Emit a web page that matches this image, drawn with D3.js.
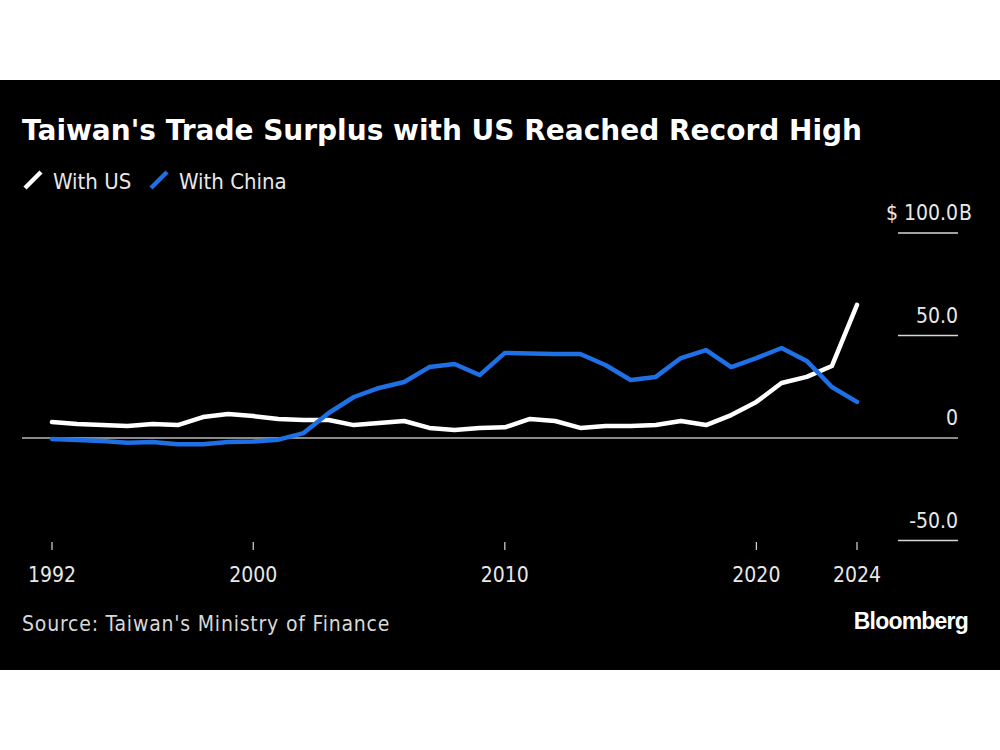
<!DOCTYPE html>
<html>
<head>
<meta charset="utf-8">
<script src="https://cdn.jsdelivr.net/npm/d3@7"></script>
<style>
  html, body { margin: 0; padding: 0; background: #fff; }
  svg { display: block; }
  .narrow { font-family: "Liberation Sans Narrow", "Arial Narrow", "DejaVu Sans Condensed", sans-serif; }
</style>
</head>
<body>
<svg id="chart" width="1000" height="750"></svg>
<script>
const years = d3.range(1992, 2025);
const withUS = [7.8, 6.8, 6.3, 5.9, 6.8, 6.3, 10.2, 11.7, 10.7, 9.3, 8.8, 8.8, 6.3, 7.3, 8.3, 4.9, 3.9, 4.9, 5.2, 9.3, 8.3, 4.9, 5.9, 5.9, 6.3, 8.3, 6.3, 11.2, 17.6, 26.8, 29.8, 35.1, 64.9];
const withChina = [-0.5, -1.0, -1.5, -2.3, -2.0, -3.0, -3.0, -2.0, -1.7, -0.8, 2.4, 12.2, 20.0, 24.4, 27.3, 34.6, 36.1, 30.7, 41.5, 41.2, 41.0, 41.0, 35.6, 28.3, 29.8, 39.0, 42.9, 34.6, 39.0, 43.9, 37.6, 24.9, 17.6];
const seriesNames = ["With US", "With China"];
const seriesColors = ["#ffffff", "#1f6fe5"];
const yTicks = [100, 50, 0, -50];
const yTickLabels = ["100.0", "50.0", "0", "-50.0"];
const xTicks = [1992, 2000, 2010, 2020, 2024];

const svg = d3.select("#chart");
svg.append("rect").attr("x", 0).attr("y", 80).attr("width", 1000).attr("height", 590).attr("fill", "#000");

const x = d3.scaleLinear().domain([1992, 2024]).range([52, 857]);
const y = d3.scaleLinear().domain([-50, 100]).range([540.5, 233]);

// Title
svg.append("text").attr("x", 22).attr("y", 140)
  .attr("fill", "#fff")
  .style("font-family", "'DejaVu Sans', sans-serif")
  .style("font-weight", "bold").style("font-size", "28px")
  .text("Taiwan's Trade Surplus with US Reached Record High");

// Legend
const legend = svg.append("g");
const legendX = [25, 151];
seriesNames.forEach((n, i) => {
  legend.append("line").attr("x1", legendX[i]).attr("y1", 188).attr("x2", legendX[i] + 16).attr("y2", 172)
    .attr("stroke", seriesColors[i]).attr("stroke-width", 4.5);
  legend.append("text").attr("class", "narrow").attr("x", legendX[i] + 28).attr("y", 189)
    .attr("fill", "#e8e8e8").style("font-size", "22px").text(n);
});

// Y grid segments and labels
const yAxis = svg.append("g");
yTicks.forEach((t, i) => {
  if (t === 0) {
    yAxis.append("line").attr("x1", 22).attr("x2", 958).attr("y1", y(0)).attr("y2", y(0))
      .attr("stroke", "#b8b8b8").attr("stroke-width", 1.5);
  } else {
    yAxis.append("line").attr("x1", 898).attr("x2", 958).attr("y1", y(t)).attr("y2", y(t))
      .attr("stroke", "#d8d8d8").attr("stroke-width", 1.5);
  }
  const label = yAxis.append("text").attr("class", "narrow").attr("x", 958).attr("y", y(t) - 13)
    .attr("text-anchor", "end").attr("fill", "#e8e8e8").style("font-size", "21px")
    .text(i === 0 ? "$ " + yTickLabels[i] : yTickLabels[i]);
  if (i === 0) {
    yAxis.append("text").attr("class", "narrow").attr("x", 959).attr("y", y(t) - 13)
      .attr("fill", "#e8e8e8").style("font-size", "21px").text("B");
  }
});

// X axis
const xAxis = svg.append("g");
xTicks.forEach(t => {
  xAxis.append("line").attr("x1", x(t)).attr("x2", x(t)).attr("y1", 542).attr("y2", 550)
    .attr("stroke", "#d8d8d8").attr("stroke-width", 1.2);
  xAxis.append("text").attr("class", "narrow").attr("x", x(t)).attr("y", 582)
    .attr("text-anchor", "middle").attr("fill", "#e8e8e8").style("font-size", "21px").text(t);
});

// Lines
const line = d3.line().x((d, i) => x(years[i])).y(d => y(d)).curve(d3.curveLinear);
svg.append("path").datum(withUS).attr("d", line).attr("fill", "none")
  .attr("stroke", seriesColors[0]).attr("stroke-width", 4.5).attr("stroke-linejoin", "round").attr("stroke-linecap", "round");
svg.append("path").datum(withChina).attr("d", line).attr("fill", "none")
  .attr("stroke", seriesColors[1]).attr("stroke-width", 4.5).attr("stroke-linejoin", "round").attr("stroke-linecap", "round");

// Footer
svg.append("text").attr("class", "narrow").attr("x", 22).attr("y", 631)
  .attr("fill", "#d8d8d8").style("font-size", "21px").style("letter-spacing", "0.8px")
  .text("Source: Taiwan's Ministry of Finance");
svg.append("text").attr("x", 968).attr("y", 629).attr("text-anchor", "end")
  .attr("fill", "#fff").style("font-family", "'Liberation Sans', Arial, sans-serif")
  .style("font-weight", "bold").style("font-size", "23px").style("letter-spacing", "-0.8px").text("Bloomberg");
</script>
</body>
</html>
